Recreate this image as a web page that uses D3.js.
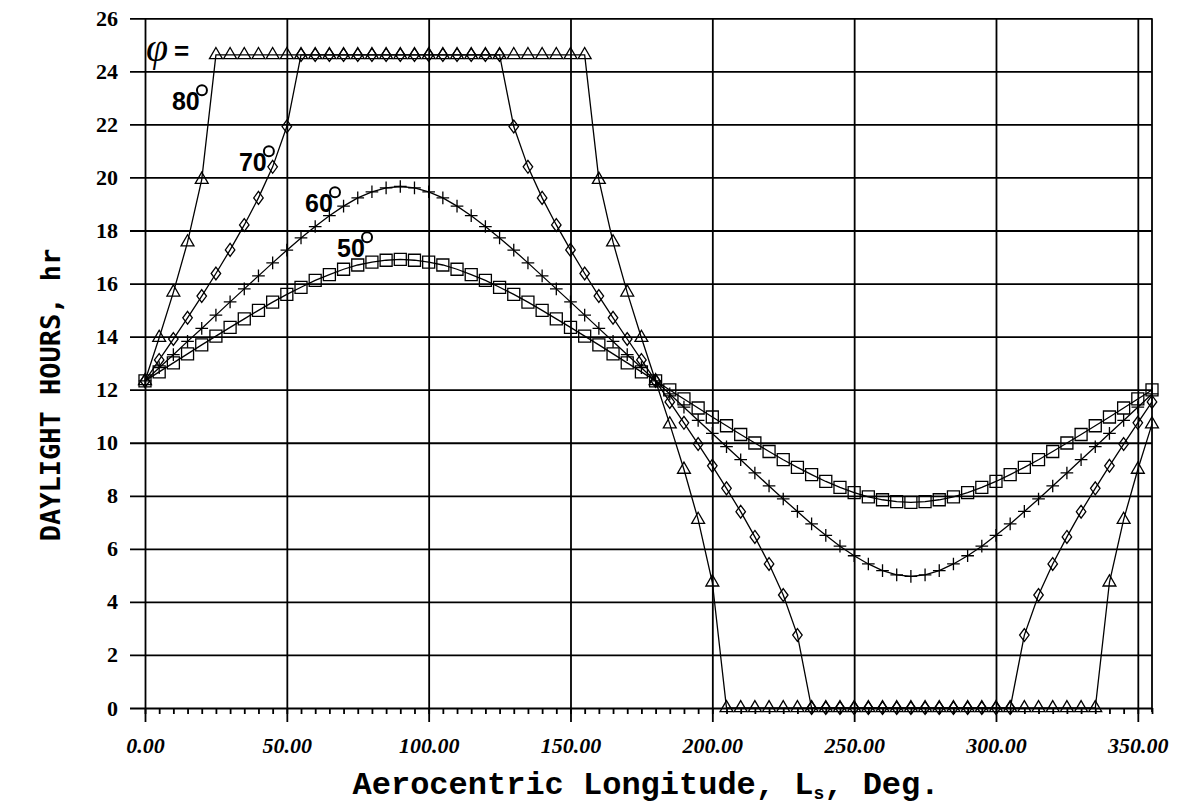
<!DOCTYPE html>
<html>
<head>
    <title>Daylight hours</title>
    <script src="https://d3js.org/d3.v7.min.js"></script>
    <style type="text/css">
        body { margin: 0; background: #ffffff; }
        svg { background: #ffffff; }
        .grid line { stroke: #000; stroke-width: 1.8; }
        .grid path { display: none; }
        .ytick text { font-family: "Liberation Serif", serif; font-weight: bold; font-size: 22px; fill: #000; }
        .xtick text { font-family: "Liberation Serif", serif; font-weight: bold; font-style: italic; font-size: 22px; fill: #000; }
        .series { fill: none; stroke: #000; stroke-width: 1.3; }
        .marker { fill: none; stroke: #000; stroke-width: 1.3; }
        .lat-label { font-family: "Liberation Sans", sans-serif; font-weight: bold; font-size: 25px; }
    </style>
</head>
<body>
<div id="chart"></div>
<script>
// aerocentric longitude, deg (one point every 5 deg)
var lsValues = [0, 5, 10, 15, 20, 25, 30, 35, 40, 45, 50, 55, 60, 65, 70, 75, 80, 85, 90, 95,
    100, 105, 110, 115, 120, 125, 130, 135, 140, 145, 150, 155, 160, 165, 170, 175, 180, 185, 190, 195,
    200, 205, 210, 215, 220, 225, 230, 235, 240, 245, 250, 255, 260, 265, 270, 275, 280, 285, 290, 295,
    300, 305, 310, 315, 320, 325, 330, 335, 340, 345, 350, 355]

// daylight hours, one list per latitude
var lat50 = [12.33, 12.67, 13.01, 13.35, 13.69, 14.02, 14.35, 14.67, 14.99, 15.30,
    15.59, 15.86, 16.12, 16.34, 16.54, 16.70, 16.81, 16.88, 16.91, 16.88,
    16.81, 16.70, 16.54, 16.34, 16.12, 15.86, 15.59, 15.30, 14.99, 14.67,
    14.35, 14.02, 13.69, 13.35, 13.01, 12.67, 12.33, 11.99, 11.65, 11.31,
    10.97, 10.64, 10.31, 9.99, 9.67, 9.36, 9.07, 8.80, 8.54, 8.32,
    8.12, 7.96, 7.85, 7.78, 7.75, 7.78, 7.85, 7.96, 8.12, 8.32,
    8.54, 8.80, 9.07, 9.36, 9.67, 9.99, 10.31, 10.64, 10.97, 11.31,
    11.65, 11.99]

var lat60 = [12.33, 12.83, 13.32, 13.82, 14.31, 14.81, 15.31, 15.80, 16.29, 16.78,
    17.26, 17.72, 18.15, 18.56, 18.92, 19.23, 19.46, 19.61, 19.66, 19.61,
    19.46, 19.23, 18.92, 18.56, 18.15, 17.72, 17.26, 16.78, 16.29, 15.80,
    15.31, 14.81, 14.31, 13.82, 13.32, 12.83, 12.33, 11.84, 11.34, 10.84,
    10.35, 9.85, 9.36, 8.86, 8.37, 7.88, 7.41, 6.94, 6.51, 6.10,
    5.74, 5.43, 5.18, 5.02, 4.96, 5.02, 5.18, 5.43, 5.74, 6.10,
    6.51, 6.94, 7.41, 7.88, 8.37, 8.86, 9.36, 9.85, 10.35, 10.84,
    11.34, 11.84]

var lat70 = [12.33, 13.12, 13.91, 14.71, 15.53, 16.38, 17.27, 18.21, 19.23, 20.40,
    21.92, 24.62, 24.62, 24.62, 24.62, 24.62, 24.62, 24.62, 24.62, 24.62,
    24.62, 24.62, 24.62, 24.62, 24.62, 24.62, 21.92, 20.40, 19.23, 18.21,
    17.27, 16.38, 15.53, 14.71, 13.91, 13.12, 12.33, 11.54, 10.75, 9.95,
    9.13, 8.28, 7.40, 6.45, 5.43, 4.26, 2.75, 0, 0, 0,
    0, 0, 0, 0, 0, 0, 0, 0, 0, 0,
    0, 0, 2.75, 4.26, 5.43, 6.45, 7.40, 8.28, 9.13, 9.95,
    10.75, 11.54]

var lat80 = [12.33, 13.96, 15.67, 17.56, 19.92, 24.62, 24.62, 24.62, 24.62, 24.62,
    24.62, 24.62, 24.62, 24.62, 24.62, 24.62, 24.62, 24.62, 24.62, 24.62,
    24.62, 24.62, 24.62, 24.62, 24.62, 24.62, 24.62, 24.62, 24.62, 24.62,
    24.62, 24.62, 19.92, 17.56, 15.67, 13.96, 12.33, 10.70, 8.99, 7.10,
    4.74, 0, 0, 0, 0, 0, 0, 0, 0, 0,
    0, 0, 0, 0, 0, 0, 0, 0, 0, 0,
    0, 0, 0, 0, 0, 0, 0, 0, 4.74, 7.10,
    8.99, 10.70]

var lsTicks = [0, 50, 100, 150, 200, 250, 300, 350]
var hourTicks = [0, 2, 4, 6, 8, 10, 12, 14, 16, 18, 20, 22, 24, 26]
var latNames = ["50", "60", "70", "80"]
// where the latitude labels sit, in chart units
var labelLs = [67.7, 56.4, 33.1, 9.5]
var labelHr = [16.99, 18.69, 20.23, 22.53]

var width = 1183, height = 803

var svg = d3.select("#chart")
    .append("svg")
    .attr("width", width)
    .attr("height", height)

var x = d3.scaleLinear().domain([0, 355]).range([145, 1152])
var y = d3.scaleLinear().domain([0, 26]).range([708, 18.3])

// horizontal grid + left tick labels (drawn from the right edge out to x=130)
svg.append("g")
    .attr("class", "grid ytick")
    .attr("transform", "translate(" + x(355) + ",0)")
    .call(d3.axisLeft(y).tickValues(hourTicks).tickSize(x(355) - 130).tickPadding(12).tickFormat(d3.format("d")))

// vertical grid + bottom labels
svg.append("g")
    .attr("class", "grid xtick")
    .attr("transform", "translate(0," + y(26) + ")")
    .call(d3.axisBottom(x).tickValues(lsTicks).tickSize(722 - y(26)).tickPadding(15).tickFormat(d3.format(".2f")))

// little ticks every 5 deg under the zero line
svg.append("g")
    .attr("class", "grid")
    .attr("transform", "translate(0," + y(0) + ")")
    .call(d3.axisBottom(x).tickValues(lsValues).tickSize(6).tickFormat(""))

// right border
svg.append("line")
    .attr("x1", x(355)).attr("x2", x(355))
    .attr("y1", y(26)).attr("y2", y(0) + 4)
    .attr("stroke", "#000").attr("stroke-width", 1.8)

svg.selectAll(".grid text").attr("fill", "#000")
svg.selectAll(".ytick text").style("font-style", "normal")

// marker shapes
var squareSym = { draw: function(c, s) { var r = Math.sqrt(s) / 2; c.rect(-r, -r, 2 * r, 2 * r) } }
var plusSym = { draw: function(c, s) { var r = Math.sqrt(s) / 2; c.moveTo(-r, 0); c.lineTo(r, 0); c.moveTo(0, -r); c.lineTo(0, r) } }
var diamondSym = { draw: function(c, s) { var r = Math.sqrt(s) / 2; c.moveTo(0, -r * 1.15); c.lineTo(r * 0.85, 0); c.lineTo(0, r * 1.15); c.lineTo(-r * 0.85, 0); c.closePath() } }

var series = [
    { name: "50", values: lat50, sym: squareSym, size: 144 },
    { name: "60", values: lat60, sym: plusSym, size: 160 },
    { name: "70", values: lat70, sym: diamondSym, size: 125 },
    { name: "80", values: lat80, sym: d3.symbolTriangle, size: 72 }
]

var line = d3.line()
    .x(function(d) { return x(d[0]) })
    .y(function(d) { return y(d[1]) })

series.forEach(function(s) {
    var pts = lsValues.map(function(ls, i) { return [ls, s.values[i]] })
    svg.append("path")
        .attr("class", "series")
        .attr("d", line(pts))
    svg.append("g").selectAll("path")
        .data(pts)
        .enter().append("path")
        .attr("class", "marker")
        .attr("transform", function(d) { return "translate(" + x(d[0]) + "," + y(d[1]) + ")" })
        .attr("d", d3.symbol().type(s.sym).size(s.size))
})

// latitude labels with little degree circles
latNames.forEach(function(n, i) {
    svg.append("text")
        .attr("class", "lat-label")
        .attr("x", x(labelLs[i]))
        .attr("y", y(labelHr[i]))
        .text(n)
    svg.append("circle")
        .attr("cx", x(labelLs[i]) + 30)
        .attr("cy", y(labelHr[i]) - 20)
        .attr("r", 5)
        .attr("fill", "none")
        .attr("stroke", "#000")
        .attr("stroke-width", 2)
})

svg.append("text")
    .attr("x", 146).attr("y", 61)
    .style("font-family", "Liberation Serif, serif")
    .style("font-style", "italic")
    .style("font-size", "40px")
    .text("\u03c6")
svg.append("text")
    .attr("x", 174).attr("y", 60)
    .style("font-family", "Liberation Sans, sans-serif")
    .style("font-weight", "bold")
    .style("font-size", "26px")
    .text("=")

// axis titles
svg.append("text")
    .attr("transform", "translate(60,395) rotate(-90)")
    .attr("text-anchor", "middle")
    .style("font-family", "DejaVu Sans Mono, monospace")
    .style("font-weight", "bold")
    .style("font-size", "27px")
    .text("DAYLIGHT HOURS, hr")

var xt = svg.append("text")
    .attr("x", 646).attr("y", 794)
    .attr("text-anchor", "middle")
    .style("font-family", "Liberation Mono, monospace")
    .style("font-weight", "bold")
    .style("font-size", "32px")
xt.append("tspan").text("Aerocentric Longitude, L")
xt.append("tspan").attr("dy", 5).style("font-size", "18px").text("s")
xt.append("tspan").attr("dy", -5).text(", Deg.")
</script>
</body>
</html>
